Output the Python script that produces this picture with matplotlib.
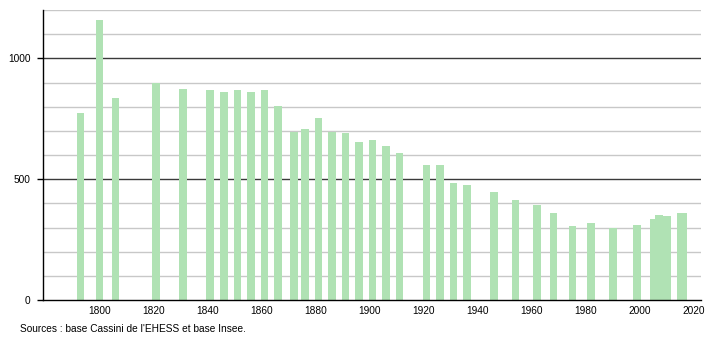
import matplotlib
matplotlib.use("Agg")
import matplotlib.pyplot as plt

years = [1793, 1800, 1806, 1821, 1831, 1841, 1846, 1851, 1856, 1861, 1866,
         1872, 1876, 1881, 1886, 1891, 1896, 1901, 1906, 1911, 1921, 1926,
         1931, 1936, 1946, 1954, 1962, 1968, 1975, 1982, 1990, 1999, 2005,
         2007, 2010, 2015, 2016]
population = [774, 1158, 837, 896, 875, 868, 862, 871, 862, 871, 803,
              696, 708, 754, 696, 692, 654, 662, 637, 608, 558, 558,
              483, 475, 446, 412, 392, 358, 308, 320, 300, 312, 337,
              350, 346, 358, 358]
x_ticks = [1800, 1820, 1840, 1860, 1880, 1900, 1920, 1940, 1960, 1980, 2000, 2020]
y_major = [0, 500, 1000]
y_minor = [100, 200, 300, 400, 600, 700, 800, 900, 1100, 1200]
source = "Sources : base Cassini de l'EHESS et base Insee."

plt.rcParams['font.family'] = ['Liberation Sans', 'DejaVu Sans']

fig = plt.figure(figsize=(7.1, 3.4), dpi=100)
W, H = 710, 340
ax = fig.add_axes([43 / W, 40 / H, (700.7 - 43) / W, (300 - 10) / H])

for v in y_minor:
    ax.axhline(v, color='#c8c8c8', lw=1.0, zorder=1)
for v in y_major[1:]:
    ax.axhline(v, color='#3a3a3a', lw=1.0, zorder=1)

ax.bar(years, population, width=2.8, color='#b0e2b4', edgecolor='none', zorder=2)

ax.set_xlim(1779.1, 2022.5)
ax.set_ylim(0, 1200)
ax.set_xticks(x_ticks)
ax.set_xticklabels([str(t) for t in x_ticks])
ax.set_yticks(y_major)
ax.set_yticklabels([str(t) for t in y_major])

for s in ['top', 'right']:
    ax.spines[s].set_visible(False)
ax.spines['left'].set_color('black')
ax.spines['bottom'].set_color('black')
ax.spines['left'].set_linewidth(1.0)
ax.spines['bottom'].set_linewidth(1.0)
ax.tick_params(axis='x', length=0, pad=4, labelsize=7.3, colors='black')
ax.tick_params(axis='y', length=4, width=1.0, pad=5, labelsize=7.3, colors='black')

fig.text(20.5 / W, 1 - 329 / H, source, fontsize=7.3, va='center', ha='left')

fig.savefig('out.png', dpi=100)
